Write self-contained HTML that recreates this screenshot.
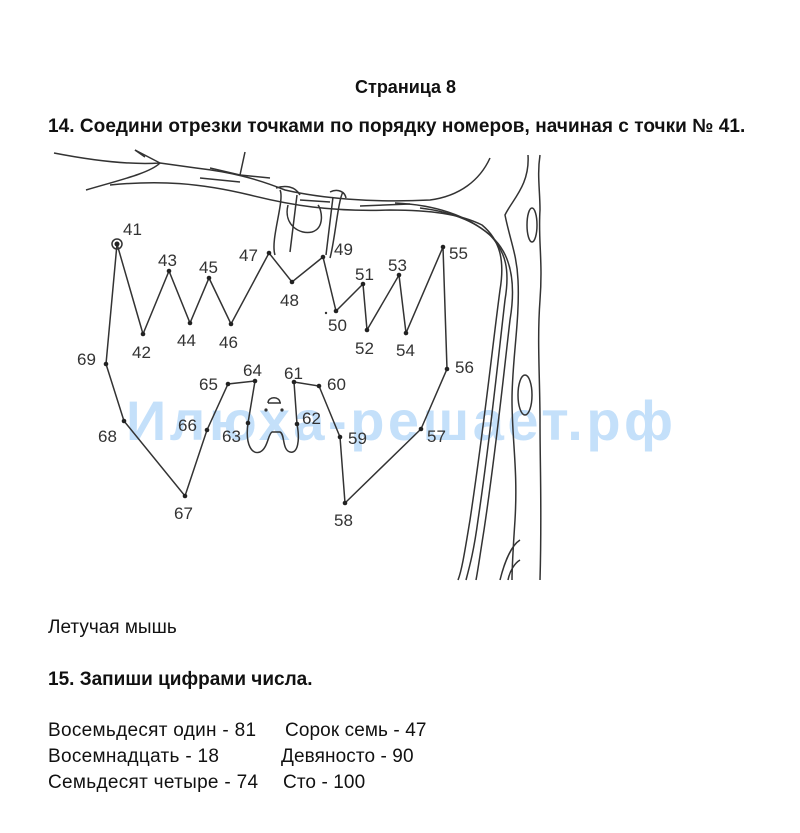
<!DOCTYPE html>
<html><head><meta charset="utf-8"><style>
body{margin:0;background:#fff;width:800px;height:833px;position:relative;font-family:"Liberation Sans",sans-serif;color:#111;overflow:hidden}
.t{position:absolute;white-space:nowrap;font-size:19px}
</style></head><body>
<div class="t" style="left:355px;top:77px;font-weight:bold;font-size:18px">Страница 8</div>
<div class="t" style="left:48px;top:116px;font-weight:bold;letter-spacing:0.05px">14. Соедини отрезки точками по порядку номеров, начиная с точки № 41.</div>
<svg style="position:absolute;left:0;top:0" width="800" height="833" viewBox="0 0 800 833">
<text x="126" y="440" font-family="Liberation Sans, sans-serif" font-size="56" font-weight="bold" letter-spacing="3.5" fill="#9ccbf7" fill-opacity="0.6">Илюха-решает.рф</text>
<g fill="none" stroke="#333" stroke-width="1.5">
<path d="M54 153 C90 160 130 165 160 163 L135 150 M160 163 L196 168 C230 172 255 178 285 190 C320 198 370 203 430 200 C460 196 480 180 490 158"/>
<path d="M86 190 C120 180 150 173 160 163 M135 150 L145 157"/>
<path d="M210 168 L240 175 L245 152 M240 175 L270 178"/>
<path d="M110 185 C160 180 200 183 250 195 C290 205 330 212 390 210 C430 210 460 214 482 225 C500 240 505 260 500 290 C492 350 485 420 470 520 C465 550 462 570 458 580"/>
<path d="M200 178 L240 182 M300 200 L330 202 M360 206 L410 204"/>
<path d="M395 203 C440 205 470 218 490 235 C506 252 510 270 505 300 C498 360 490 440 478 520 C474 550 470 565 466 580"/>
<path d="M420 208 C455 212 480 224 495 240 C514 260 515 290 510 320 C503 380 496 450 484 530 C480 555 478 570 476 580"/>
<path d="M528 155 C530 185 512 200 505 215 C510 240 517 255 518 280 C520 320 512 360 512 400 C512 440 518 470 515 520 C513 550 512 565 512 580"/>
<path d="M540 155 C537 175 540 190 540 210 C538 240 543 260 540 300 C537 340 540 380 540 420 C540 470 542 510 540 580"/>
<ellipse cx="532" cy="225" rx="5" ry="17"/>
<ellipse cx="525" cy="395" rx="7" ry="20"/>
<path d="M500 580 C505 560 512 545 520 540 M508 580 C510 570 515 563 520 560"/>
<path d="M280 190 C285 200 270 240 275 255 M297 195 L290 252 M288 205 C283 225 300 235 312 232 C325 228 322 210 318 205 M333 197 L326 255 M343 192 C338 200 335 240 330 258"/>
<path d="M276 188 C285 185 295 186 300 195 M330 192 C338 188 345 192 346 198"/>
<path d="M248 423 C245 445 252 455 260 452 C268 448 268 434 272 432 L280 432 C285 434 282 450 290 452 C298 454 300 440 297 424"/>
<path d="M268 403 C268 396 280 396 280 403 M268 403 L281 403"/>
</g>
<g fill="#333"><circle cx="266" cy="410" r="1.6"/><circle cx="282" cy="410" r="1.6"/><circle cx="326" cy="313" r="1.2"/></g>
<g fill="none" stroke="#333" stroke-width="1.5">
<polyline points="117,244 143,334 169,271 190,323 209,278 231,324 269,253 292,282 323,257 336,311 363,284 367,330 399,275 406,333 443,247 447,369 421,429 345,503 340,437 319,386 294,382 297,424"/>
<polyline points="248,423 255,381 228,384 207,430 185,496 124,421 106,364 117,244"/>
<circle cx="117" cy="244" r="5"/>
</g>
<g fill="#222">
<circle cx="117" cy="244" r="2.5"/>
<circle cx="143" cy="334" r="2.3"/><circle cx="169" cy="271" r="2.3"/><circle cx="190" cy="323" r="2.3"/><circle cx="209" cy="278" r="2.3"/><circle cx="231" cy="324" r="2.3"/><circle cx="269" cy="253" r="2.3"/><circle cx="292" cy="282" r="2.3"/><circle cx="323" cy="257" r="2.3"/><circle cx="336" cy="311" r="2.3"/><circle cx="363" cy="284" r="2.3"/><circle cx="367" cy="330" r="2.3"/><circle cx="399" cy="275" r="2.3"/><circle cx="406" cy="333" r="2.3"/><circle cx="443" cy="247" r="2.3"/><circle cx="447" cy="369" r="2.3"/><circle cx="421" cy="429" r="2.3"/><circle cx="345" cy="503" r="2.3"/><circle cx="340" cy="437" r="2.3"/><circle cx="319" cy="386" r="2.3"/><circle cx="294" cy="382" r="2.3"/><circle cx="297" cy="424" r="2.3"/><circle cx="248" cy="423" r="2.3"/><circle cx="255" cy="381" r="2.3"/><circle cx="228" cy="384" r="2.3"/><circle cx="207" cy="430" r="2.3"/><circle cx="185" cy="496" r="2.3"/><circle cx="124" cy="421" r="2.3"/><circle cx="106" cy="364" r="2.3"/>
</g>
<g font-family="Liberation Sans, sans-serif" font-size="17" fill="#333">
<text x="123" y="235">41</text><text x="132" y="358">42</text><text x="158" y="266">43</text><text x="177" y="346">44</text><text x="199" y="273">45</text><text x="219" y="348">46</text><text x="239" y="261">47</text><text x="280" y="306">48</text><text x="334" y="255">49</text><text x="328" y="331">50</text><text x="355" y="280">51</text><text x="355" y="354">52</text><text x="388" y="271">53</text><text x="396" y="356">54</text><text x="449" y="259">55</text><text x="455" y="373">56</text><text x="427" y="442">57</text><text x="334" y="526">58</text><text x="348" y="444">59</text><text x="327" y="390">60</text><text x="284" y="379">61</text><text x="302" y="424">62</text><text x="222" y="442">63</text><text x="243" y="376">64</text><text x="199" y="390">65</text><text x="178" y="431">66</text><text x="174" y="519">67</text><text x="98" y="442">68</text><text x="77" y="365">69</text>
</g>
</svg>
<div class="t" style="left:48px;top:617px">Летучая мышь</div>
<div class="t" style="left:48px;top:669px;font-weight:bold">15. Запиши цифрами числа.</div>
<div class="t" style="left:48px;top:720px;letter-spacing:0.3px">Восемьдесят один - 81</div>
<div class="t" style="left:285px;top:720px;letter-spacing:0.1px">Сорок семь - 47</div>
<div class="t" style="left:48px;top:746px;letter-spacing:0.3px">Восемнадцать - 18</div>
<div class="t" style="left:281px;top:746px;letter-spacing:0.1px">Девяносто - 90</div>
<div class="t" style="left:48px;top:772px;letter-spacing:0.3px">Семьдесят четыре - 74</div>
<div class="t" style="left:283px;top:772px;letter-spacing:0.1px">Сто - 100</div>
</body></html>
